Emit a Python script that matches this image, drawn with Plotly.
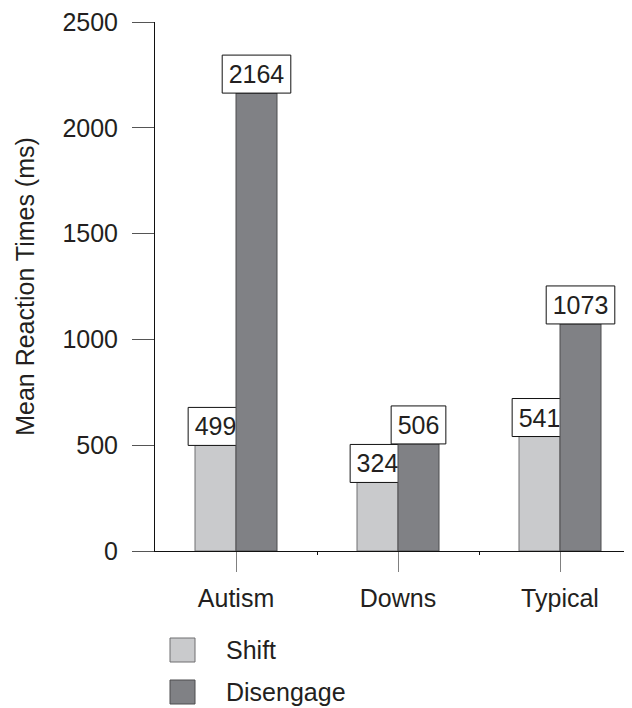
import plotly.graph_objects as go

categories = ["Autism", "Downs", "Typical"]
series_names = ["Shift", "Disengage"]
shift_vals = [499, 324, 541]
disengage_vals = [2164, 506, 1073]
y_tick_vals = [0, 500, 1000, 1500, 2000, 2500]

# page body has an 8px margin; figure is sized/positioned to compensate
OFF = 8
W, H = 632 - OFF, 708 - OFF
L, R, T = 155 - OFF, 0, 22 - OFF
B = H - (551 - OFF)
plot_w = W - L - R
plot_h = H - T - B
x_range = [-0.5, -0.5 + plot_w / 162.0]
y_range = [0, 2500]
px_per_x = plot_w / (x_range[1] - x_range[0])
px_per_y = plot_h / (y_range[1] - y_range[0])

FONT = "Liberation Sans, Arial, Helvetica, sans-serif"
TXT = "#231f20"
FS = 25
bar_w = 41 / px_per_x
box_h = 38 / px_per_y

shift_fill, shift_line = "#c9cacc", "#6f6f71"
dis_fill, dis_line = "#808185", "#4d4d4f"

xs = list(range(len(categories)))


def label_widths(vals):
    return [(len(str(v)) * 0.556 * FS + 13) / px_per_x for v in vals]


def label_trace(vals, centers):
    w = label_widths(vals)
    return go.Bar(
        x=xs, y=[box_h] * len(vals), base=vals,
        width=w, offset=[c - xi - wi / 2 for c, xi, wi in zip(centers, xs, w)],
        marker=dict(color="white", line=dict(color="#111111", width=1)),
        text=[str(v) for v in vals], textposition="inside",
        insidetextanchor="middle", constraintext="none",
        textfont=dict(family=FONT, size=FS, color=TXT),
        showlegend=False, hoverinfo="skip",
    )


fig = go.Figure()
fig.add_trace(go.Bar(
    x=xs, y=shift_vals, name=series_names[0], width=bar_w, offset=-bar_w,
    marker=dict(color=shift_fill, line=dict(color=shift_line, width=1)),
    showlegend=False,
))
fig.add_trace(label_trace(shift_vals, [xi - bar_w / 2 for xi in xs]))
fig.add_trace(go.Bar(
    x=xs, y=disengage_vals, name=series_names[1], width=bar_w, offset=0,
    marker=dict(color=dis_fill, line=dict(color=dis_line, width=1)),
    showlegend=False,
))
fig.add_trace(label_trace(disengage_vals, [xi + bar_w / 2 for xi in xs]))


# manual legend (paper coordinates), positions given in screenshot pixels
def px_to_paper_x(px):
    return (px - OFF - L) / plot_w


def px_to_paper_y(py):
    return (H - B - (py - OFF)) / plot_h


legend_items = [(series_names[0], shift_fill, shift_line, 638),
                (series_names[1], dis_fill, dis_line, 680)]
for name, fill, line, top in legend_items:
    fig.add_shape(type="rect", xref="paper", yref="paper",
                  x0=px_to_paper_x(170), x1=px_to_paper_x(195),
                  y0=px_to_paper_y(top + 24), y1=px_to_paper_y(top),
                  fillcolor=fill, line=dict(color=line, width=1))
    fig.add_annotation(xref="paper", yref="paper", x=px_to_paper_x(224),
                       y=px_to_paper_y(top + 12), text=name, showarrow=False,
                       xanchor="left", yanchor="middle",
                       font=dict(family=FONT, size=FS, color=TXT))

fig.update_layout(
    width=W, height=H,
    margin=dict(l=L, r=R, t=T, b=B),
    paper_bgcolor="white", plot_bgcolor="white",
    barmode="overlay",
    font=dict(family=FONT, size=FS, color=TXT),
    showlegend=False,
)
fig.update_xaxes(
    range=x_range, tickvals=xs, ticktext=categories,
    showline=True, linecolor="#111111", linewidth=1,
    ticks="outside", ticklen=20, tickcolor="#808080", tickwidth=1,
    ticklabelstandoff=5,
    showgrid=False, zeroline=False,
    tickfont=dict(family=FONT, size=FS, color=TXT),
    minor=dict(tickvals=[0.5, 1.5], ticks="outside", ticklen=3,
               tickcolor="#111111", showgrid=False),
)
fig.update_yaxes(
    range=y_range, tickvals=y_tick_vals,
    showline=True, linecolor="#111111", linewidth=1,
    ticks="outside", ticklen=22, tickcolor="#555555", tickwidth=1,
    ticklabelstandoff=9, ticklabeloverflow="allow",
    showgrid=False, zeroline=False,
    tickfont=dict(family=FONT, size=FS, color=TXT),
    title=dict(text="Mean Reaction Times (ms)", standoff=20,
               font=dict(family=FONT, size=FS, color=TXT)),
)

fig.write_html("out.html")
